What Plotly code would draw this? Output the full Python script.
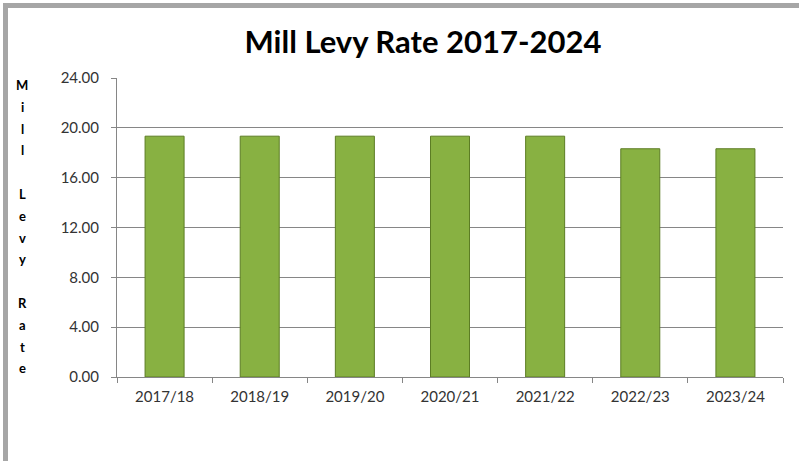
import plotly.graph_objects as go

years = ["2017/18", "2018/19", "2019/20", "2020/21", "2021/22", "2022/23", "2023/24"]
mill_levy = [19.33, 19.33, 19.33, 19.33, 19.33, 18.32, 18.32]
y_ticks = [0, 4, 8, 12, 16, 20, 24]
y_tick_labels = ["0.00", "4.00", "8.00", "12.00", "16.00", "20.00", "24.00"]
title_text = "Mill Levy Rate 2017-2024"
y_title = "Mill Levy Rate"

W, H = 799, 461
ML, MR, MT, MB = 117, 16, 78, 84
PW, PH = W - ML - MR, H - MT - MB

def px_x(x):
    return (x - ML) / PW

def px_y(y):
    return (H - MB - y) / PH

fig = go.Figure()
fig.add_trace(go.Bar(
    x=years, y=mill_levy,
    marker=dict(color="#88B142", line=dict(color="#5C7D24", width=1)),
    width=0.41,
))

# Vertical stacked letters for the y title
annotations = []
lines = []
for word_i, word in enumerate(y_title.split(" ")):
    if word_i > 0:
        lines.append("")
    lines.extend(list(word))
y0, step = 85, 21.8
for i, ch in enumerate(lines):
    if ch:
        annotations.append(dict(
            text=ch, xref="paper", yref="paper",
            x=px_x(22), y=px_y(y0 + i * step),
            xanchor="center", yanchor="middle", showarrow=False,
            font=dict(family="Lato, Noto Sans, sans-serif", size=13, color="#000000", weight="bold"),
        ))

shapes = [
    dict(type="line", xref="paper", yref="paper",
         x0=px_x(5.5), x1=px_x(805), y0=px_y(5.5), y1=px_y(5.5),
         line=dict(color="#A6A6A6", width=5)),
    dict(type="line", xref="paper", yref="paper",
         x0=px_x(5.5), x1=px_x(5.5), y0=px_y(3), y1=px_y(470),
         line=dict(color="#A6A6A6", width=5)),
]

fig.update_layout(
    width=W, height=H,
    margin=dict(l=ML, r=MR, t=MT, b=MB),
    paper_bgcolor="white", plot_bgcolor="white",
    showlegend=False,
    title=dict(text=title_text, x=423 / W, xanchor="center",
               y=1 - 42 / H, yanchor="middle",
               font=dict(family="Lato, Noto Sans, sans-serif", size=31, color="#000000", weight="bold")),
    annotations=annotations,
    shapes=shapes,
    font=dict(family="Lato, Noto Sans, sans-serif", color="#333333"),
)
fig.update_yaxes(
    range=[0, 24], tickvals=y_ticks, ticktext=y_tick_labels,
    showgrid=True, gridcolor="#868686", gridwidth=1,
    showline=True, linecolor="#868686", linewidth=1,
    ticks="outside", ticklen=5, tickcolor="#868686",
    ticklabelstandoff=9, tickfont=dict(size=15, color="#333333"),
    zeroline=False, fixedrange=True,
)
fig.update_xaxes(
    type="category",
    showline=True, linecolor="#868686", linewidth=1,
    ticks="outside", ticklen=5, tickcolor="#868686", tickson="boundaries",
    ticklabelstandoff=6, tickfont=dict(size=15, color="#333333"),
    showgrid=False, fixedrange=True,
)

fig.write_html("out.html", config={"displayModeBar": False})
